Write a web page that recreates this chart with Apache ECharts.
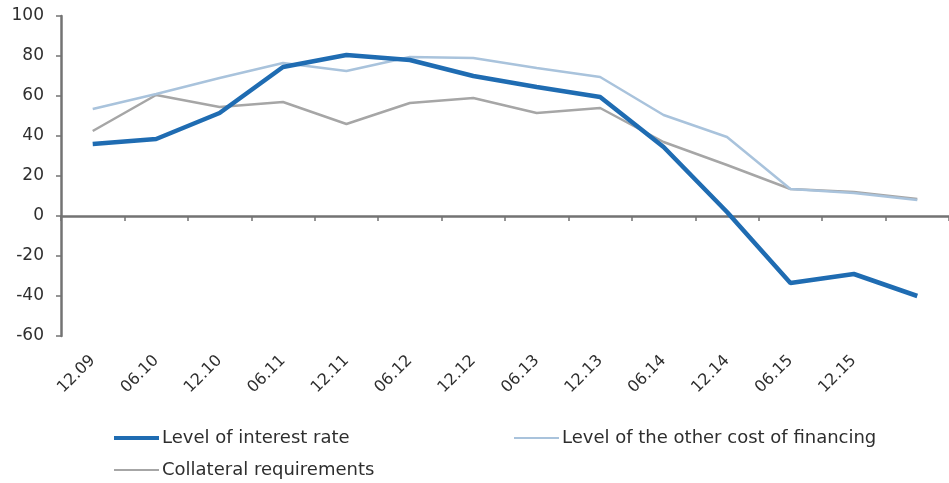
<!DOCTYPE html>
<html>
<head>
<meta charset="utf-8">
<script src="https://cdn.jsdelivr.net/npm/echarts@6/dist/echarts.min.js"></script>
<style>
  html, body { margin: 0; padding: 0; background: #ffffff; }
  #chart { width: 949px; height: 483px; }
</style>
</head>
<body>
<div id="chart"></div>
<script>
// Half-year survey periods (the final period carries no label)
const categories = ['12.09', '06.10', '12.10', '06.11', '12.11', '06.12', '12.12',
                    '06.13', '12.13', '06.14', '12.14', '06.15', '12.15', ''];

// Net percentages per factor
const interestRate = [36, 38.5, 51.5, 74.5, 80.5, 78, 70, 64.5, 59.5, 34.5, 2, -33.5, -29, -40];
const otherCost    = [53.5, 61, 69, 76.5, 72.5, 79.5, 79, 74, 69.5, 50.5, 39.5, 13.5, 11.5, 8];
const collateral   = [42.5, 60.5, 54.5, 57, 46, 56.5, 59, 51.5, 54, 37, 25.5, 13.5, 12, 8.5];

const seriesNames = ['Level of interest rate', 'Level of the other cost of financing', 'Collateral requirements'];

// Value axis ticks
const yMin = -60, yMax = 100, yStep = 20;

const FONT = '"DejaVu Sans", Arial, sans-serif';
const TEXT = '#2e2e2e';
const AXIS = '#737373';
const BLUE = '#1f6cb2';
const LIGHT = '#a9c3dc';
const GREY = '#a6a6a6';

const chart = echarts.init(document.getElementById('chart'), null, { renderer: 'canvas' });

function legendFor(name, color, h, left, top) {
  return {
    data: [name],
    left: left,
    top: top,
    icon: 'rect',
    itemWidth: 45,
    itemHeight: h,
    itemGap: 0,
    padding: 0,
    selectedMode: false,
    itemStyle: { color: color },
    textStyle: { fontFamily: FONT, fontSize: 18, color: TEXT, padding: [0, 0, 0, -2] }
  };
}

chart.setOption({
  animation: false,
  backgroundColor: '#ffffff',
  grid: { left: 61, top: 16, width: 893, height: 320, containLabel: false },
  legend: [
    legendFor(seriesNames[0], BLUE, 4, 114, 429),
    legendFor(seriesNames[1], LIGHT, 2, 514, 429),
    legendFor(seriesNames[2], GREY, 2, 114, 461)
  ],
  xAxis: [
    {
      // axis line drawn through zero
      type: 'category',
      data: categories,
      position: 'bottom',
      boundaryGap: true,
      axisLine: { show: true, onZero: true, lineStyle: { color: AXIS, width: 2.5 } },
      axisTick: { show: true, length: 5, lineStyle: { color: AXIS, width: 1.5 } },
      axisLabel: { show: false },
      splitLine: { show: false }
    },
    {
      // period labels along the bottom of the plot
      type: 'category',
      data: categories,
      position: 'bottom',
      boundaryGap: true,
      axisLine: { show: false, onZero: false },
      axisTick: { show: false },
      axisLabel: {
        show: true, interval: 0, rotate: 45, margin: 22,
        fontFamily: FONT, fontSize: 16, color: TEXT
      },
      splitLine: { show: false }
    }
  ],
  yAxis: {
    type: 'value',
    min: yMin,
    max: yMax,
    interval: yStep,
    axisLine: { show: true, lineStyle: { color: AXIS, width: 2.5 } },
    axisTick: { show: true, length: 5, lineStyle: { color: AXIS, width: 1.5 } },
    axisLabel: { fontFamily: FONT, fontSize: 17, color: TEXT, margin: 17 },
    splitLine: { show: false }
  },
  series: [
    {
      name: seriesNames[2], type: 'line', data: collateral, xAxisIndex: 0,
      symbol: 'none', z: 2,
      lineStyle: { color: GREY, width: 2.5 }, itemStyle: { color: GREY }
    },
    {
      name: seriesNames[1], type: 'line', data: otherCost, xAxisIndex: 0,
      symbol: 'none', z: 3,
      lineStyle: { color: LIGHT, width: 2.5 }, itemStyle: { color: LIGHT }
    },
    {
      name: seriesNames[0], type: 'line', data: interestRate, xAxisIndex: 0,
      symbol: 'none', z: 4,
      lineStyle: { color: BLUE, width: 4.5 }, itemStyle: { color: BLUE }
    }
  ]
});
</script>
</body>
</html>
